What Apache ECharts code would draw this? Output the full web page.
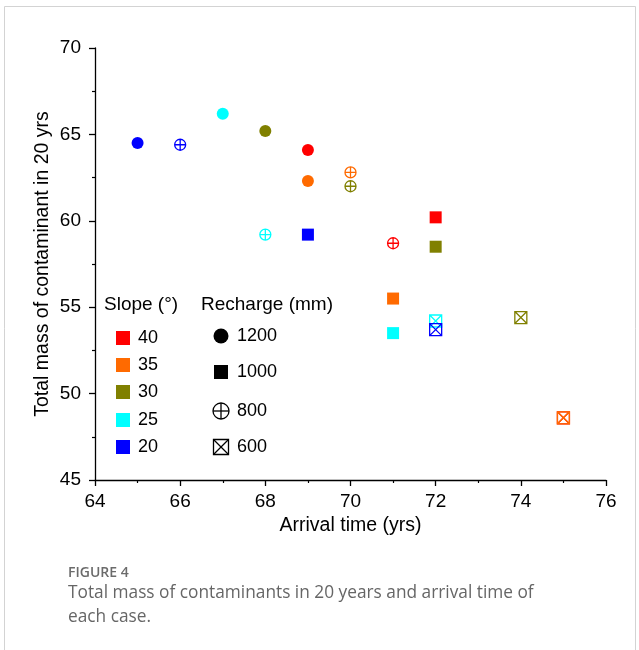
<!DOCTYPE html>
<html>
<head>
<meta charset="utf-8">
<script src="https://cdn.jsdelivr.net/npm/echarts@6/dist/echarts.min.js"></script>
<style>
html,body{margin:0;padding:0;background:#fff;}
#c{width:639px;height:650px;}
</style>
</head>
<body>
<div id="c"></div>
<script>
// ---- data ----
const slopes = ['40', '35', '30', '25', '20'];
const recharges = ['1200', '1000', '800', '600'];
// arrival time (yrs), ordered by recharge [1200, 1000, 800, 600]
const arrival40 = [69, 72, 71, 75];
const arrival35 = [69, 71, 70, 75];
const arrival30 = [68, 72, 70, 74];
const arrival25 = [67, 71, 68, 72];
const arrival20 = [65, 69, 66, 72];
// total mass of contaminant in 20 yrs
const mass40 = [64.1, 60.2, 58.7, 48.6];
const mass35 = [62.3, 55.5, 62.8, 48.6];
const mass30 = [65.2, 58.5, 62.0, 54.4];
const mass25 = [66.2, 53.5, 59.2, 54.2];
const mass20 = [64.5, 59.2, 64.4, 53.7];
const xTicks = [64, 66, 68, 70, 72, 74, 76];
const yTicks = [45, 50, 55, 60, 65, 70];

// ---- styles ----
const slopeColors = {'40': '#FF0000', '35': '#FF6A00', '30': '#808000', '25': '#00FFFF', '20': '#0000FF'};
const arrivals = {'40': arrival40, '35': arrival35, '30': arrival30, '25': arrival25, '20': arrival20};
const masses = {'40': mass40, '35': mass35, '30': mass30, '25': mass25, '20': mass20};
const crossCircle = 'path://M0,-10 A10,10 0 1,1 0,10 A10,10 0 1,1 0,-10 Z M-10,0 L10,0 M0,-10 L0,10';
const crossBox = 'path://M-10,-10 L10,-10 L10,10 L-10,10 Z M-10,-10 L10,10 M10,-10 L-10,10';
const symbolFor = {'1200': 'circle', '1000': 'rect', '800': crossCircle, '600': crossBox};
const sizeFor = {'1200': 12, '1000': 12, '800': 11, '600': 12};
const FONT = 'Arial';

const series = slopes.map(s => ({
  type: 'scatter',
  name: s,
  data: recharges.map((r, i) => {
    const hollow = (r === '800' || r === '600');
    return {
      value: [arrivals[s][i], masses[s][i]],
      symbol: symbolFor[r],
      symbolSize: sizeFor[r],
      itemStyle: hollow
        ? {color: 'rgba(255,255,255,0)', borderColor: slopeColors[s], borderWidth: 1.3, opacity: 1}
        : {color: slopeColors[s], opacity: 1}
    };
  })
}));

// legend graphics
const g = [];
g.push({type: 'rect', shape: {x: 4.5, y: 6.5, width: 631, height: 700}, style: {fill: 'none', stroke: '#d3d3d3', lineWidth: 1}, silent: true});
g.push({type: 'text', x: 104, y: 305, style: {text: 'Slope (°)', font: '19px ' + FONT, fill: '#000', verticalAlign: 'middle'}});
g.push({type: 'text', x: 201, y: 305, style: {text: 'Recharge (mm)', font: '19px ' + FONT, fill: '#000', verticalAlign: 'middle'}});
const slopeRowY = [338, 365, 392, 420, 447];
slopes.forEach((s, i) => {
  g.push({type: 'rect', shape: {x: 116, y: slopeRowY[i] - 7, width: 14, height: 14}, style: {fill: slopeColors[s]}});
  g.push({type: 'text', x: 138, y: slopeRowY[i], style: {text: s, font: '18px ' + FONT, fill: '#000', verticalAlign: 'middle'}});
});
const rechRowY = [336, 372, 411, 447];
g.push({type: 'circle', shape: {cx: 221, cy: rechRowY[0], r: 7.5}, style: {fill: '#000'}});
g.push({type: 'rect', shape: {x: 214, y: rechRowY[1] - 7, width: 14, height: 14}, style: {fill: '#000'}});
g.push({type: 'circle', shape: {cx: 221, cy: rechRowY[2], r: 8}, style: {fill: 'none', stroke: '#000', lineWidth: 1.3}});
g.push({type: 'polyline', shape: {points: [[213, rechRowY[2]], [229, rechRowY[2]]]}, style: {stroke: '#000', lineWidth: 1.3}});
g.push({type: 'polyline', shape: {points: [[221, rechRowY[2] - 8], [221, rechRowY[2] + 8]]}, style: {stroke: '#000', lineWidth: 1.3}});
g.push({type: 'rect', shape: {x: 213.5, y: rechRowY[3] - 7.5, width: 15, height: 15}, style: {fill: 'none', stroke: '#000', lineWidth: 1.3}});
g.push({type: 'polyline', shape: {points: [[213.5, rechRowY[3] - 7.5], [228.5, rechRowY[3] + 7.5]]}, style: {stroke: '#000', lineWidth: 1.3}});
g.push({type: 'polyline', shape: {points: [[228.5, rechRowY[3] - 7.5], [213.5, rechRowY[3] + 7.5]]}, style: {stroke: '#000', lineWidth: 1.3}});
recharges.forEach((r, i) => {
  g.push({type: 'text', x: 237, y: rechRowY[i], style: {text: r, font: '18px ' + FONT, fill: '#000', verticalAlign: 'middle'}});
});
// caption
g.push({type: 'text', x: 68, y: 573, style: {text: 'FIGURE 4', font: '600 14px "Open Sans"', fill: '#6b6b6b', verticalAlign: 'middle'}});
g.push({type: 'text', x: 68, y: 593, style: {text: 'Total mass of contaminants in 20 years and arrival time of', font: '17.3px "Open Sans"', fill: '#666', verticalAlign: 'middle'}});
g.push({type: 'text', x: 68, y: 617, style: {text: 'each case.', font: '17.3px "Open Sans"', fill: '#666', verticalAlign: 'middle'}});

const chart = echarts.init(document.getElementById('c'), null, {renderer: 'canvas'});
chart.setOption({
  backgroundColor: '#fff',
  animation: false,
  grid: {left: 95, right: 33, top: 48, bottom: 170, containLabel: false},
  xAxis: {
    type: 'value', min: xTicks[0], max: xTicks[xTicks.length - 1], interval: 2,
    name: 'Arrival time (yrs)', nameLocation: 'middle', nameGap: 36, nameMoveOverlap: false,
    nameTextStyle: {fontFamily: FONT, fontSize: 19.5, color: '#000'},
    axisLine: {show: true, onZero: false, lineStyle: {color: '#000', width: 1.3}},
    axisTick: {show: true, length: 6, lineStyle: {color: '#000', width: 1.3}},
    minorTick: {show: true, splitNumber: 2, length: 3, lineStyle: {color: '#000', width: 1.2}},
    axisLabel: {fontFamily: FONT, fontSize: 19, color: '#000', margin: 12},
    splitLine: {show: false}
  },
  yAxis: {
    type: 'value', min: yTicks[0], max: yTicks[yTicks.length - 1], interval: 5,
    name: 'Total mass of contaminant in 20 yrs', nameLocation: 'middle', nameGap: 42, nameMoveOverlap: false,
    nameTextStyle: {fontFamily: FONT, fontSize: 19.5, color: '#000'},
    axisLine: {show: true, onZero: false, lineStyle: {color: '#000', width: 1.3}},
    axisTick: {show: true, length: 6, lineStyle: {color: '#000', width: 1.3}},
    minorTick: {show: true, splitNumber: 2, length: 3, lineStyle: {color: '#000', width: 1.2}},
    axisLabel: {fontFamily: FONT, fontSize: 19, color: '#000', margin: 14},
    splitLine: {show: false}
  },
  series: series,
  graphic: g
});
</script>
</body>
</html>
